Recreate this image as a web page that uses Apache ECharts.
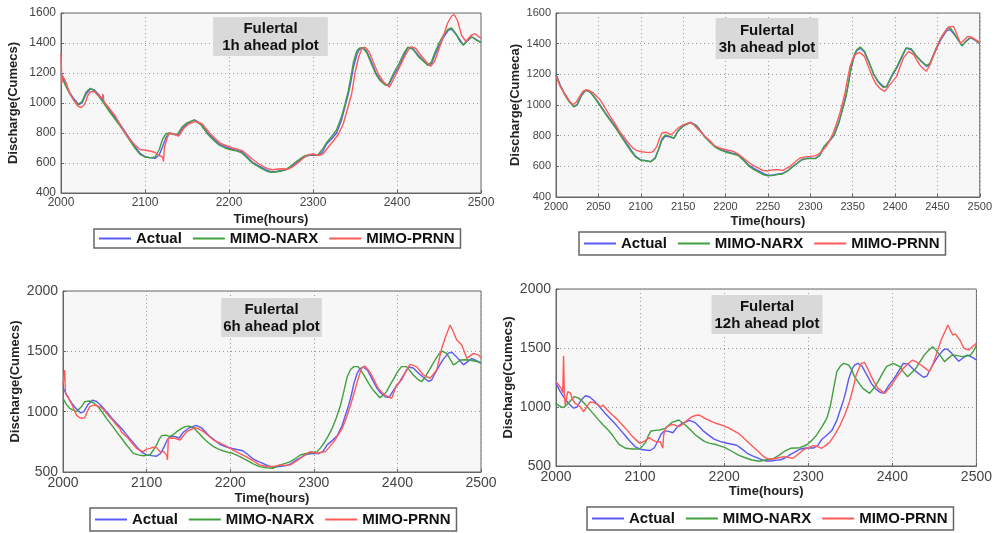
<!DOCTYPE html>
<html>
<head>
<meta charset="utf-8">
<script src="https://cdn.jsdelivr.net/npm/echarts@6/dist/echarts.min.js"></script>
<style>html,body{margin:0;padding:0;background:#fff}#c{width:995px;height:533px}</style>
</head>
<body>
<div id="c"></div>
<script>
// ---------------- DATA ----------------
const seriesNames = ['Actual', 'MIMO-NARX', 'MIMO-PRNN'];
const panelTitles = ['Fulertal\n1h ahead plot', 'Fulertal\n3h ahead plot', 'Fulertal\n6h ahead plot', 'Fulertal\n12h ahead plot'];
const yNames = ['Discharge(Cumecs)', 'Discharge(Cumeca)', 'Discharge(Cumecs)', 'Discharge(Cumecs)'];
const xName = 'Time(hours)';
const xTicks = [[2000, 2500, 100], [2000, 2500, 50], [2000, 2500, 100], [2000, 2500, 100]];
const yTicks = [[400, 1600, 200], [400, 1600, 200], [500, 2000, 500], [500, 2000, 500]];

const actual = [[2000,1200],[2005,1130],[2010,1075],[2015,1030],[2021,990],[2025,1000],[2030,1060],[2035,1095],[2040,1085],[2045,1055],[2052,1000],[2058,950],[2064,905],[2070,860],[2076,810],[2082,760],[2088,710],[2094,665],[2100,642],[2106,636],[2112,631],[2117,655],[2121,710],[2125,770],[2129,798],[2134,793],[2139,782],[2144,830],[2150,862],[2159,887],[2166,865],[2175,798],[2182,760],[2188,728],[2195,709],[2202,695],[2208,686],[2215,676],[2221,645],[2227,610],[2233,588],[2239,571],[2245,552],[2250,542],[2255,542],[2261,548],[2267,553],[2273,570],[2279,598],[2285,622],[2290,642],[2297,653],[2306,652],[2311,670],[2316,725],[2322,760],[2328,800],[2334,887],[2338,975],[2342,1060],[2345,1140],[2348,1235],[2352,1320],[2355,1355],[2359,1370],[2364,1345],[2370,1268],[2375,1200],[2380,1155],[2386,1122],[2390,1118],[2396,1185],[2402,1240],[2408,1310],[2413,1370],[2419,1362],[2425,1320],[2431,1285],[2437,1252],[2441,1262],[2445,1318],[2450,1380],[2455,1435],[2461,1485],[2465,1492],[2470,1460],[2475,1420],[2479,1388],[2484,1415],[2489,1440],[2494,1425],[2500,1400]];

const narx1h = [[2000,1190],[2005,1120],[2010,1065],[2015,1020],[2020,990],[2025,1010],[2030,1075],[2035,1098],[2040,1080],[2045,1045],[2052,990],[2058,940],[2064,895],[2070,850],[2076,800],[2082,750],[2088,700],[2094,658],[2100,640],[2106,634],[2112,640],[2117,690],[2121,760],[2125,795],[2129,800],[2134,790],[2139,795],[2144,840],[2150,868],[2158,886],[2166,858],[2175,790],[2182,750],[2188,720],[2195,700],[2202,688],[2208,682],[2215,668],[2221,636],[2227,603],[2233,582],[2239,562],[2245,545],[2250,538],[2255,540],[2261,545],[2267,555],[2273,578],[2279,605],[2285,630],[2290,648],[2297,654],[2306,655],[2311,690],[2316,735],[2322,775],[2328,820],[2334,910],[2338,990],[2342,1080],[2345,1170],[2348,1270],[2352,1345],[2355,1365],[2359,1368],[2364,1335],[2370,1255],[2375,1190],[2380,1148],[2386,1120],[2390,1125],[2396,1200],[2402,1260],[2408,1330],[2413,1372],[2419,1358],[2425,1312],[2431,1280],[2437,1250],[2441,1275],[2445,1335],[2450,1400],[2455,1450],[2461,1492],[2465,1500],[2470,1462],[2475,1410],[2479,1385],[2484,1420],[2489,1442],[2494,1420],[2500,1405]];

const prnn1h = [[2000,1330],[2001,1130],[2002,1180],[2005,1150],[2010,1070],[2015,1020],[2020,980],[2024,970],[2028,990],[2032,1050],[2035,1075],[2040,1075],[2045,1045],[2049,1030],[2050,1060],[2051,1010],[2058,960],[2065,910],[2070,860],[2071,850],[2072,838],[2080,770],[2088,720],[2094,690],[2100,685],[2106,680],[2112,670],[2117,650],[2121,640],[2122,610],[2123,700],[2126,760],[2129,800],[2134,795],[2140,780],[2146,830],[2152,860],[2160,878],[2168,860],[2177,800],[2184,760],[2190,730],[2197,715],[2204,700],[2210,692],[2216,682],[2222,655],[2228,625],[2234,600],[2240,580],[2246,562],[2252,555],[2258,560],[2264,562],[2270,558],[2276,575],[2282,600],[2288,630],[2294,655],[2300,660],[2306,650],[2312,660],[2318,705],[2324,745],[2330,790],[2336,860],[2342,980],[2346,1060],[2350,1200],[2354,1300],[2358,1360],[2362,1372],[2367,1340],[2372,1270],[2378,1190],[2384,1140],[2391,1105],[2397,1170],[2404,1250],[2410,1320],[2416,1375],[2422,1365],[2428,1320],[2434,1280],[2440,1245],[2445,1280],[2450,1360],[2455,1440],[2460,1530],[2465,1580],[2468,1590],[2472,1550],[2477,1450],[2482,1410],[2488,1450],[2493,1462],[2500,1430]];

const narx3h = [[2000,1195],[2005,1125],[2010,1070],[2015,1025],[2021,988],[2025,1005],[2030,1065],[2035,1097],[2040,1088],[2045,1052],[2052,995],[2058,945],[2064,898],[2070,852],[2076,802],[2082,752],[2088,702],[2094,660],[2100,640],[2106,636],[2112,630],[2117,652],[2121,712],[2125,780],[2129,805],[2134,795],[2139,784],[2144,832],[2150,864],[2159,886],[2166,862],[2175,795],[2182,755],[2188,724],[2195,704],[2202,690],[2208,682],[2215,670],[2221,640],[2227,605],[2233,580],[2239,562],[2245,545],[2250,538],[2255,540],[2261,546],[2267,550],[2273,568],[2279,596],[2285,622],[2290,645],[2297,652],[2306,650],[2311,672],[2316,728],[2322,765],[2328,805],[2334,895],[2338,968],[2342,1050],[2345,1140],[2348,1240],[2352,1330],[2355,1362],[2359,1378],[2364,1350],[2370,1270],[2375,1198],[2380,1150],[2386,1115],[2390,1120],[2396,1192],[2402,1248],[2408,1318],[2413,1372],[2419,1368],[2425,1322],[2431,1285],[2437,1258],[2441,1270],[2445,1325],[2450,1390],[2455,1445],[2461,1495],[2465,1505],[2470,1465],[2475,1420],[2479,1385],[2484,1418],[2489,1442],[2494,1428],[2500,1402]];

const prnn3h = [[2000,1187],[2005,1120],[2011,1067],[2016,1025],[2020,1002],[2024,1020],[2028,1057],[2032,1090],[2036,1100],[2040,1092],[2044,1078],[2052,1035],[2058,980],[2064,926],[2070,875],[2075,828],[2081,785],[2087,741],[2091,718],[2095,704],[2101,695],[2107,691],[2111,690],[2115,698],[2119,730],[2122,780],[2125,817],[2130,822],[2136,806],[2140,828],[2144,850],[2149,868],[2154,878],[2158,887],[2162,872],[2166,850],[2172,818],[2178,785],[2183,758],[2187,735],[2192,722],[2197,713],[2203,705],[2209,698],[2215,680],[2221,654],[2227,628],[2233,604],[2239,588],[2244,574],[2250,570],[2256,578],[2262,578],[2268,574],[2276,600],[2282,628],[2288,654],[2294,662],[2300,665],[2305,668],[2309,676],[2314,700],[2319,730],[2323,770],[2327,817],[2331,880],[2335,948],[2338,1010],[2341,1078],[2344,1170],[2347,1252],[2350,1300],[2353,1328],[2358,1343],[2364,1317],[2370,1230],[2374,1175],[2378,1133],[2383,1105],[2388,1089],[2394,1133],[2402,1187],[2406,1250],[2410,1307],[2416,1350],[2422,1328],[2429,1263],[2433,1238],[2437,1220],[2441,1260],[2445,1317],[2449,1370],[2453,1426],[2458,1470],[2463,1509],[2469,1513],[2473,1460],[2477,1404],[2481,1420],[2486,1448],[2490,1442],[2494,1430],[2500,1409]];

const narx6h = [[2000,1110],[2004,1060],[2008,1028],[2016,1000],[2022,1040],[2026,1083],[2032,1088],[2037,1070],[2042,1041],[2047,995],[2052,945],[2058,890],[2064,834],[2070,780],[2076,724],[2080,690],[2084,655],[2090,642],[2096,635],[2104,641],[2108,680],[2112,724],[2115,770],[2118,801],[2123,805],[2128,793],[2132,810],[2136,834],[2141,858],[2146,876],[2151,880],[2156,868],[2162,825],[2168,779],[2174,742],[2180,710],[2186,690],[2192,674],[2198,662],[2203,655],[2211,630],[2219,600],[2227,570],[2235,545],[2243,535],[2251,531],[2260,559],[2266,572],[2272,586],[2278,612],[2284,641],[2292,655],[2298,662],[2304,669],[2308,700],[2312,738],[2317,795],[2322,862],[2327,950],[2332,1055],[2336,1170],[2340,1290],[2344,1350],[2348,1373],[2353,1373],[2357,1335],[2361,1290],[2366,1230],[2371,1179],[2379,1116],[2383,1135],[2387,1166],[2392,1230],[2397,1290],[2401,1340],[2405,1373],[2411,1373],[2415,1340],[2419,1304],[2424,1270],[2429,1248],[2433,1285],[2437,1331],[2441,1380],[2445,1428],[2449,1470],[2453,1503],[2459,1483],[2463,1435],[2467,1387],[2471,1405],[2475,1428],[2481,1430],[2487,1428],[2493,1418],[2500,1409]];

const prnn6h = [[2000,1221],[2001,1280],[2002,1345],[2003,1150],[2006,1124],[2008,1090],[2010,1069],[2013,1020],[2016,972],[2019,955],[2022,945],[2024,960],[2026,950],[2029,1000],[2032,1041],[2035,1050],[2038,1055],[2042,1045],[2046,1033],[2049,1015],[2050,1000],[2051,1010],[2052,986],[2058,940],[2064,890],[2068,860],[2070,830],[2071,845],[2072,820],[2076,793],[2082,745],[2088,696],[2092,680],[2096,669],[2100,690],[2104,696],[2108,705],[2112,702],[2116,669],[2120,670],[2122,669],[2124,640],[2125,600],[2126,779],[2130,782],[2134,779],[2140,765],[2144,800],[2148,834],[2153,852],[2158,868],[2163,855],[2168,834],[2174,800],[2180,765],[2186,745],[2192,724],[2198,705],[2203,683],[2211,655],[2219,627],[2227,595],[2235,559],[2243,548],[2251,545],[2260,559],[2266,555],[2272,559],[2278,585],[2284,614],[2290,645],[2296,669],[2304,655],[2314,669],[2319,710],[2324,752],[2329,805],[2334,862],[2339,950],[2344,1055],[2348,1150],[2352,1248],[2357,1359],[2361,1378],[2367,1331],[2372,1265],[2377,1193],[2385,1138],[2393,1110],[2399,1221],[2405,1262],[2410,1330],[2415,1392],[2423,1373],[2431,1304],[2439,1276],[2447,1345],[2453,1525],[2457,1608],[2463,1718],[2467,1660],[2471,1594],[2477,1552],[2483,1442],[2491,1483],[2497,1469],[2500,1447]];

const narx12h = [[2000,1031],[2004,1010],[2008,994],[2013,1020],[2018,1060],[2022,1088],[2027,1075],[2032,1045],[2038,995],[2044,946],[2050,895],[2056,847],[2062,805],[2067,763],[2071,722],[2075,684],[2083,650],[2091,644],[2099,644],[2103,670],[2107,706],[2110,760],[2113,797],[2118,802],[2123,805],[2130,819],[2138,870],[2146,890],[2154,847],[2160,805],[2166,763],[2172,730],[2177,706],[2183,692],[2189,684],[2195,670],[2201,655],[2209,625],[2217,593],[2225,570],[2233,551],[2242,540],[2249,551],[2259,565],[2265,590],[2271,621],[2279,650],[2290,655],[2298,678],[2304,715],[2310,763],[2316,830],[2322,904],[2326,1000],[2328,1073],[2331,1190],[2334,1299],[2338,1345],[2342,1370],[2348,1356],[2352,1310],[2355,1257],[2360,1205],[2365,1158],[2373,1116],[2378,1160],[2383,1215],[2388,1280],[2393,1342],[2401,1370],[2409,1342],[2413,1300],[2418,1257],[2423,1290],[2428,1328],[2433,1385],[2438,1441],[2443,1480],[2448,1511],[2452,1480],[2456,1446],[2462,1384],[2466,1410],[2471,1441],[2477,1435],[2483,1427],[2488,1432],[2493,1441],[2497,1480],[2500,1525]];

const prnn12h = [[2000,1215],[2004,1180],[2006,1158],[2008,1120],[2009,1435],[2010,1100],[2011,1017],[2014,1130],[2017,1120],[2020,1059],[2023,1030],[2026,1017],[2029,1000],[2031,990],[2033,960],[2034,975],[2036,995],[2040,1040],[2044,1040],[2047,1031],[2050,1020],[2052,1030],[2053,1000],[2056,1017],[2061,975],[2067,932],[2073,895],[2076,870],[2077,880],[2079,847],[2085,800],[2091,749],[2096,715],[2100,692],[2105,710],[2111,740],[2115,720],[2119,706],[2124,706],[2126,690],[2127,650],[2128,760],[2130,819],[2134,840],[2138,853],[2142,845],[2146,833],[2150,850],[2154,876],[2158,900],[2162,918],[2166,928],[2170,932],[2174,918],[2177,904],[2181,890],[2185,876],[2191,860],[2197,847],[2201,835],[2205,825],[2211,800],[2217,777],[2222,745],[2228,706],[2234,665],[2241,621],[2246,585],[2252,559],[2259,559],[2265,570],[2271,579],[2277,572],[2282,565],[2288,600],[2294,636],[2300,655],[2306,672],[2311,665],[2316,650],[2321,675],[2326,706],[2332,770],[2338,847],[2344,945],[2349,1045],[2353,1150],[2357,1271],[2363,1370],[2367,1378],[2371,1320],[2375,1257],[2379,1205],[2383,1158],[2391,1116],[2395,1150],[2399,1186],[2403,1230],[2407,1271],[2412,1320],[2417,1356],[2424,1398],[2429,1380],[2434,1356],[2439,1330],[2444,1299],[2447,1340],[2450,1398],[2454,1480],[2458,1568],[2462,1630],[2466,1695],[2469,1650],[2472,1610],[2475,1620],[2477,1625],[2481,1560],[2485,1498],[2491,1483],[2495,1510],[2500,1540]];

const panelSeries = [
  [actual, narx1h, prnn1h],
  [actual, narx3h, prnn3h],
  [actual, narx6h, prnn6h],
  [actual, narx12h, prnn12h]
];

// ---------------- LAYOUT / STYLE ----------------
const FONT = '"Liberation Sans", Arial, sans-serif';
const colors = ['#5a5af2', '#40a040', '#ff5a5a'];
const grids = [
  {left: 61, top: 13, width: 420, height: 180},
  {left: 556, top: 13, width: 424, height: 184},
  {left: 63, top: 291, width: 418, height: 181},
  {left: 556, top: 289, width: 423, height: 177}
];
const labelSize = [12, 11, 14, 14];
const yNameGap = [41, 34, 41, 41];
const xNameGap = [20, 18, 20, 19];
const legendPos = [
  {left: 94, top: 229, vpad: 2}, {left: 579, top: 232, vpad: 4}, {left: 90, top: 508, vpad: 4}, {left: 587, top: 507, vpad: 4}
];
const titlePos = [
  {x: 270.5, y: 17, pad: [3, 9, 2, 9]},
  {x: 767, y: 18, pad: [4, 3, 3, 3]},
  {x: 271.5, y: 298, pad: [3, 2, 2, 2]},
  {x: 767, y: 295, pad: [3, 3, 2, 3]}
];
const plainNum = v => String(v);

const option = {
  animation: false,
  backgroundColor: '#ffffff',
  grid: grids.map(g => Object.assign({show: true, backgroundColor: '#f7f7f7', borderColor: '#666', borderWidth: 1, containLabel: false}, g)),
  xAxis: grids.map((g, i) => ({
    type: 'value', gridIndex: i,
    min: xTicks[i][0], max: xTicks[i][1], interval: xTicks[i][2],
    name: xName, nameLocation: 'middle', nameGap: xNameGap[i],
    nameTextStyle: {fontFamily: FONT, fontWeight: 'bold', fontSize: 13, color: '#222'},
    axisLine: {show: true, lineStyle: {color: '#666'}},
    axisTick: {show: true, inside: true, length: 3, lineStyle: {color: '#666'}},
    axisLabel: {fontFamily: FONT, fontSize: labelSize[i], color: '#444', margin: 4, showMinLabel: true, showMaxLabel: true, formatter: plainNum},
    splitLine: {show: true, lineStyle: {color: '#9a9a9a', type: [1, 3], width: 1}}
  })),
  yAxis: grids.map((g, i) => ({
    type: 'value', gridIndex: i,
    min: yTicks[i][0], max: yTicks[i][1], interval: yTicks[i][2],
    name: yNames[i], nameLocation: 'middle', nameGap: yNameGap[i],
    nameTextStyle: {fontFamily: FONT, fontWeight: 'bold', fontSize: 13, color: '#222'},
    axisLine: {show: true, lineStyle: {color: '#666'}},
    axisTick: {show: true, inside: true, length: 3, lineStyle: {color: '#666'}},
    axisLabel: {fontFamily: FONT, fontSize: labelSize[i], color: '#444', margin: 5, showMinLabel: true, showMaxLabel: true, formatter: plainNum},
    splitLine: {show: true, lineStyle: {color: '#9a9a9a', type: [1, 3], width: 1}}
  })),
  legend: legendPos.map(p => ({
    left: p.left, top: p.top, orient: 'horizontal',
    data: seriesNames.map(n => ({name: n, icon: 'rect'})),
    itemWidth: 32, itemHeight: 2, itemGap: 11,
    padding: [p.vpad, 6, p.vpad, 5],
    backgroundColor: '#ffffff', borderColor: '#666', borderWidth: 1.5,
    selectedMode: false,
    textStyle: {fontFamily: FONT, fontWeight: 'bold', fontSize: 15, color: '#111'}
  })),
  series: [],
  graphic: panelTitles.map((t, i) => ({
    type: 'text', x: titlePos[i].x, y: titlePos[i].y, z: 100,
    style: {
      text: t, align: 'center', verticalAlign: 'top',
      fontFamily: FONT, fontWeight: 'bold', fontSize: 15, lineHeight: 17,
      fill: '#111', backgroundColor: '#d9d9d9', padding: titlePos[i].pad
    }
  }))
};

panelSeries.forEach((arr, i) => {
  arr.forEach((d, k) => {
    option.series.push({
      type: 'line', name: seriesNames[k], xAxisIndex: i, yAxisIndex: i,
      data: d, symbol: 'none', showSymbol: false, smooth: false,
      lineStyle: {color: colors[k], width: 1.4},
      itemStyle: {color: colors[k]}
    });
  });
});

const chart = echarts.init(document.getElementById('c'), null, {renderer: 'canvas'});
chart.setOption(option);
</script>
</body>
</html>
